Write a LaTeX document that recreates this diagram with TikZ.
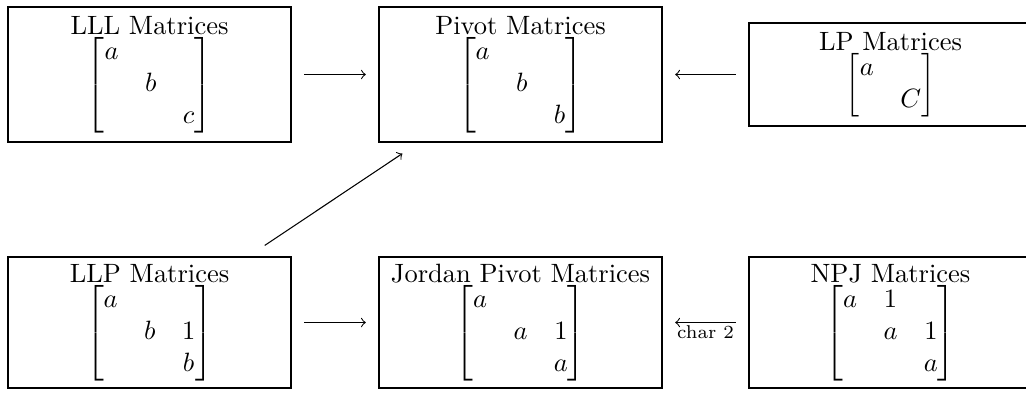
\documentclass[tikz,border=0pt]{standalone}
\usepackage{amsmath}
\begin{document}
\begin{tikzpicture}[x=0.01327cm, y=-0.01327cm,
  mbox/.style={draw, line width=1pt, minimum width=3.755cm, minimum height=1.79cm, align=center, inner sep=2pt},
  link/.style={->, shorten <=4.5pt, shorten >=4.5pt}]
  \useasboundingbox (0,0) rectangle (1026,392);
  \node[mbox] (lll) at (149.5,74.5) {LLL Matrices\\$\begin{bmatrix} a & & \\ & b & \\ & & c \end{bmatrix}$};
  \node[mbox] (pivot) at (520.5,74.5) {Pivot Matrices\\$\begin{bmatrix} a & & \\ & b & \\ & & b \end{bmatrix}$};
  \node[mbox, minimum height=1.367cm] (lp) at (890.5,74.5) {LP Matrices\\$\begin{bmatrix} a & \\ & C \end{bmatrix}$};
  \node[mbox, minimum height=1.738cm] (llp) at (149.5,322.5) {LLP Matrices\\$\begin{bmatrix} a & & \\ & b & 1 \\ & & b \end{bmatrix}$};
  \node[mbox, minimum height=1.738cm] (jordan) at (520.5,322.5) {Jordan Pivot Matrices\\$\begin{bmatrix} a & & \\ & a & 1 \\ & & a \end{bmatrix}$};
  \node[mbox, minimum height=1.738cm] (npj) at (890.5,322.5) {NPJ Matrices\\$\begin{bmatrix} a & 1 & \\ & a & 1 \\ & & a \end{bmatrix}$};
  \draw[link] (lll) -- (pivot);
  \draw[link] (lp) -- (pivot);
  \draw[link, shorten <=7pt, shorten >=7pt] (llp) -- (pivot);
  \draw[link] (llp) -- (jordan);
  \draw[link] (npj) -- node[below, font=\scriptsize, inner sep=1pt] (char) {char 2} (jordan);
\end{tikzpicture}
\end{document}
